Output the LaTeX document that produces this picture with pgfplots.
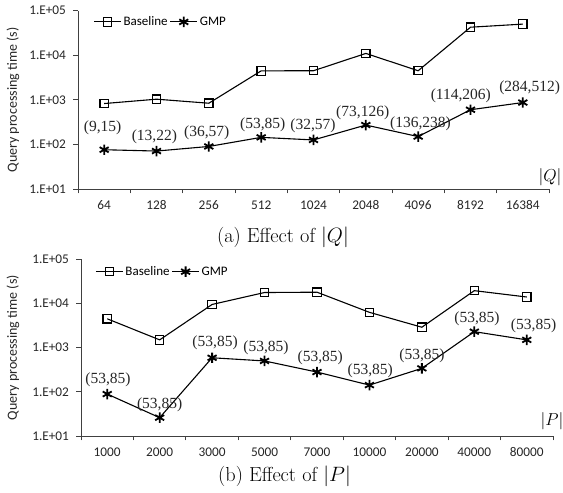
\documentclass[border=0pt]{standalone}
\usepackage{pgfplots}
\pgfplotsset{compat=1.18}
\usepackage{pgfplotstable}
\usepackage{fontspec}
\newfontfamily\tms{Liberation Serif}
\newfontfamily\calib{Carlito}

\pgfplotstableread{
x y
0 826
1 1035
2 840
3 4470
4 4500
5 11000
6 4500
7 42600
8 50000
}\baseQ
\pgfplotstableread{
x y
0 76
1 71
2 90
3 144
4 126
5 272
6 150
7 600
8 870
}\gmpQ
\pgfplotstableread{
x y lab
-0.03 238 (9,15)
0.96 150 (13,22)
1.96 184 (36,57)
3.03 278 (53,85)
3.99 264 (32,57)
4.94 516 (73,126)
6.045 293 (136,238)
6.815 1262 (114,206)
8.13 1879 (284,512)
}\labQ
\pgfplotstableread{
x y
0 4500
1 1500
2 9500
3 17700
4 18000
5 6300
6 2900
7 19500
8 14000
}\baseP
\pgfplotstableread{
x y
0 89
1 26
2 590
3 500
4 280
5 142
6 340
7 2300
8 1500
}\gmpP
\pgfplotstableread{
x y lab
0.015 186 (53,85)
1.0 50.6 (53,85)
2.057 1259 (53,85)
3.027 968 (53,85)
4.061 575 (53,85)
5.015 302 (53,85)
6.002 649 (53,85)
7.05 4467 (53,85)
8.13 3148 (53,85)
}\labP

\pgfplotsset{
  legend image code/.code={\draw[mark repeat=2,mark phase=2,#1] plot coordinates {(0pt,0pt) (13.5pt,0pt) (27pt,0pt)};},
}

\begin{document}
\begin{tikzpicture}
\useasboundingbox (0pt,0pt) rectangle (563pt,493pt);

\begin{axis}[
    scale only axis,
    at={(78pt,304pt)}, anchor=south west, width=471pt, height=178.3pt,
    ymode=log, ymin=10, ymax=100000,
    xmin=-0.5, xmax=8.5,
    clip=false,
    axis x line*=bottom, axis y line*=left,
    axis line style={black!75, line width=0.8pt},
    tick align=outside,
    ytick={10,100,1000,10000,100000},
    yticklabels={1.E+01,1.E+02,1.E+03,1.E+04,1.E+05},
    yminorticks=false,
    xtick={-0.5,0.5,...,8.5},
    xticklabels={},
    extra x ticks={0,1,...,8},
    extra x tick style={tick style={draw=none}},
    extra x tick labels={64,128,256,512,1024,2048,4096,8192,16384},
    tick style={black!75, line width=0.8pt},
    major tick length=4.5pt,
    ticklabel style={font=\calib\fontsize{13.3}{13.3}\selectfont, text=black!85},
    x tick label style={yshift=-3.5pt},
    y tick label style={xshift=-4pt},
    /pgf/number format/assume math mode=true,
    ylabel={Query processing time (s)},
    every axis y label/.style={at={(axis description cs:-0.138,0.5)}, rotate=90, anchor=center,
      font=\calib\fontsize{14}{14}\selectfont, text=black!85},
    legend columns=2,
    legend style={at={(axis description cs:0.0325,0.937)}, draw=none, fill=none, anchor=west, inner sep=0pt,
      font=\calib\fontsize{13}{13}\selectfont,
      cells={anchor=west, inner xsep=1pt, inner ysep=1pt}},
  ]
\addplot[black, line width=1.1pt, mark=square, mark size=4.2pt, mark options={solid}] table[x=x,y=y] {\baseQ};
\addlegendentry{Baseline}
\addplot[black, line width=1.1pt, mark=asterisk, mark size=5.2pt, mark options={solid, line width=1.8pt}] table[x=x,y=y] {\gmpQ};
\addlegendentry{GMP}
\addplot[draw=none, forget plot, nodes near coords, point meta=explicit symbolic,
      every node near coord/.style={anchor=center, inner sep=0pt, font=\tms\fontsize{15.5}{15.5}\selectfont, text=black!85}]
   table[x=x,y=y,meta=lab] {\labQ};
\end{axis}

\begin{axis}[
    scale only axis,
    at={(81pt,57pt)}, anchor=south west, width=472pt, height=176.7pt,
    ymode=log, ymin=10, ymax=100000,
    xmin=-0.5, xmax=8.5,
    clip=false,
    axis x line*=bottom, axis y line*=left,
    axis line style={black!75, line width=0.8pt},
    tick align=outside,
    ytick={10,100,1000,10000,100000},
    yticklabels={1.E+01,1.E+02,1.E+03,1.E+04,1.E+05},
    yminorticks=false,
    xtick={-0.5,0.5,...,8.5},
    xticklabels={},
    extra x ticks={0,1,...,8},
    extra x tick style={tick style={draw=none}},
    extra x tick labels={1000,2000,3000,5000,7000,10000,20000,40000,80000},
    tick style={black!75, line width=0.8pt},
    major tick length=4.5pt,
    ticklabel style={font=\calib\fontsize{13.3}{13.3}\selectfont, text=black!85},
    x tick label style={yshift=-3.5pt},
    y tick label style={xshift=-4pt},
    /pgf/number format/assume math mode=true,
    ylabel={Query processing time (s)},
    every axis y label/.style={at={(axis description cs:-0.144,0.5)}, rotate=90, anchor=center,
      font=\calib\fontsize{14}{14}\selectfont, text=black!85},
    legend columns=2,
    legend style={at={(axis description cs:0.03,0.93)}, draw=none, fill=none, anchor=west, inner sep=0pt,
      font=\calib\fontsize{13}{13}\selectfont,
      cells={anchor=west, inner xsep=1pt, inner ysep=1pt}},
  ]
\addplot[black, line width=1.1pt, mark=square, mark size=4.2pt, mark options={solid}] table[x=x,y=y] {\baseP};
\addlegendentry{Baseline}
\addplot[black, line width=1.1pt, mark=asterisk, mark size=5.2pt, mark options={solid, line width=1.8pt}] table[x=x,y=y] {\gmpP};
\addlegendentry{GMP}
\addplot[draw=none, forget plot, nodes near coords, point meta=explicit symbolic,
      every node near coord/.style={anchor=center, inner sep=0pt, font=\tms\fontsize{15.5}{15.5}\selectfont, text=black!85}]
   table[x=x,y=y,meta=lab] {\labP};
\end{axis}

\node[font=\fontsize{18.5}{18.5}\selectfont] at (550pt,316.3pt) {$|Q|$};
\node[font=\fontsize{18.5}{18.5}\selectfont] at (552pt,72pt) {$|P|$};
\node[anchor=base, font=\fontsize{20.3}{20.3}\selectfont] at (283pt,250pt) {(a) Effect of $|Q|$};
\node[anchor=base, font=\fontsize{20.3}{20.3}\selectfont] at (284.5pt,11.3pt) {(b) Effect of $|P|$};
\end{tikzpicture}
\end{document}
